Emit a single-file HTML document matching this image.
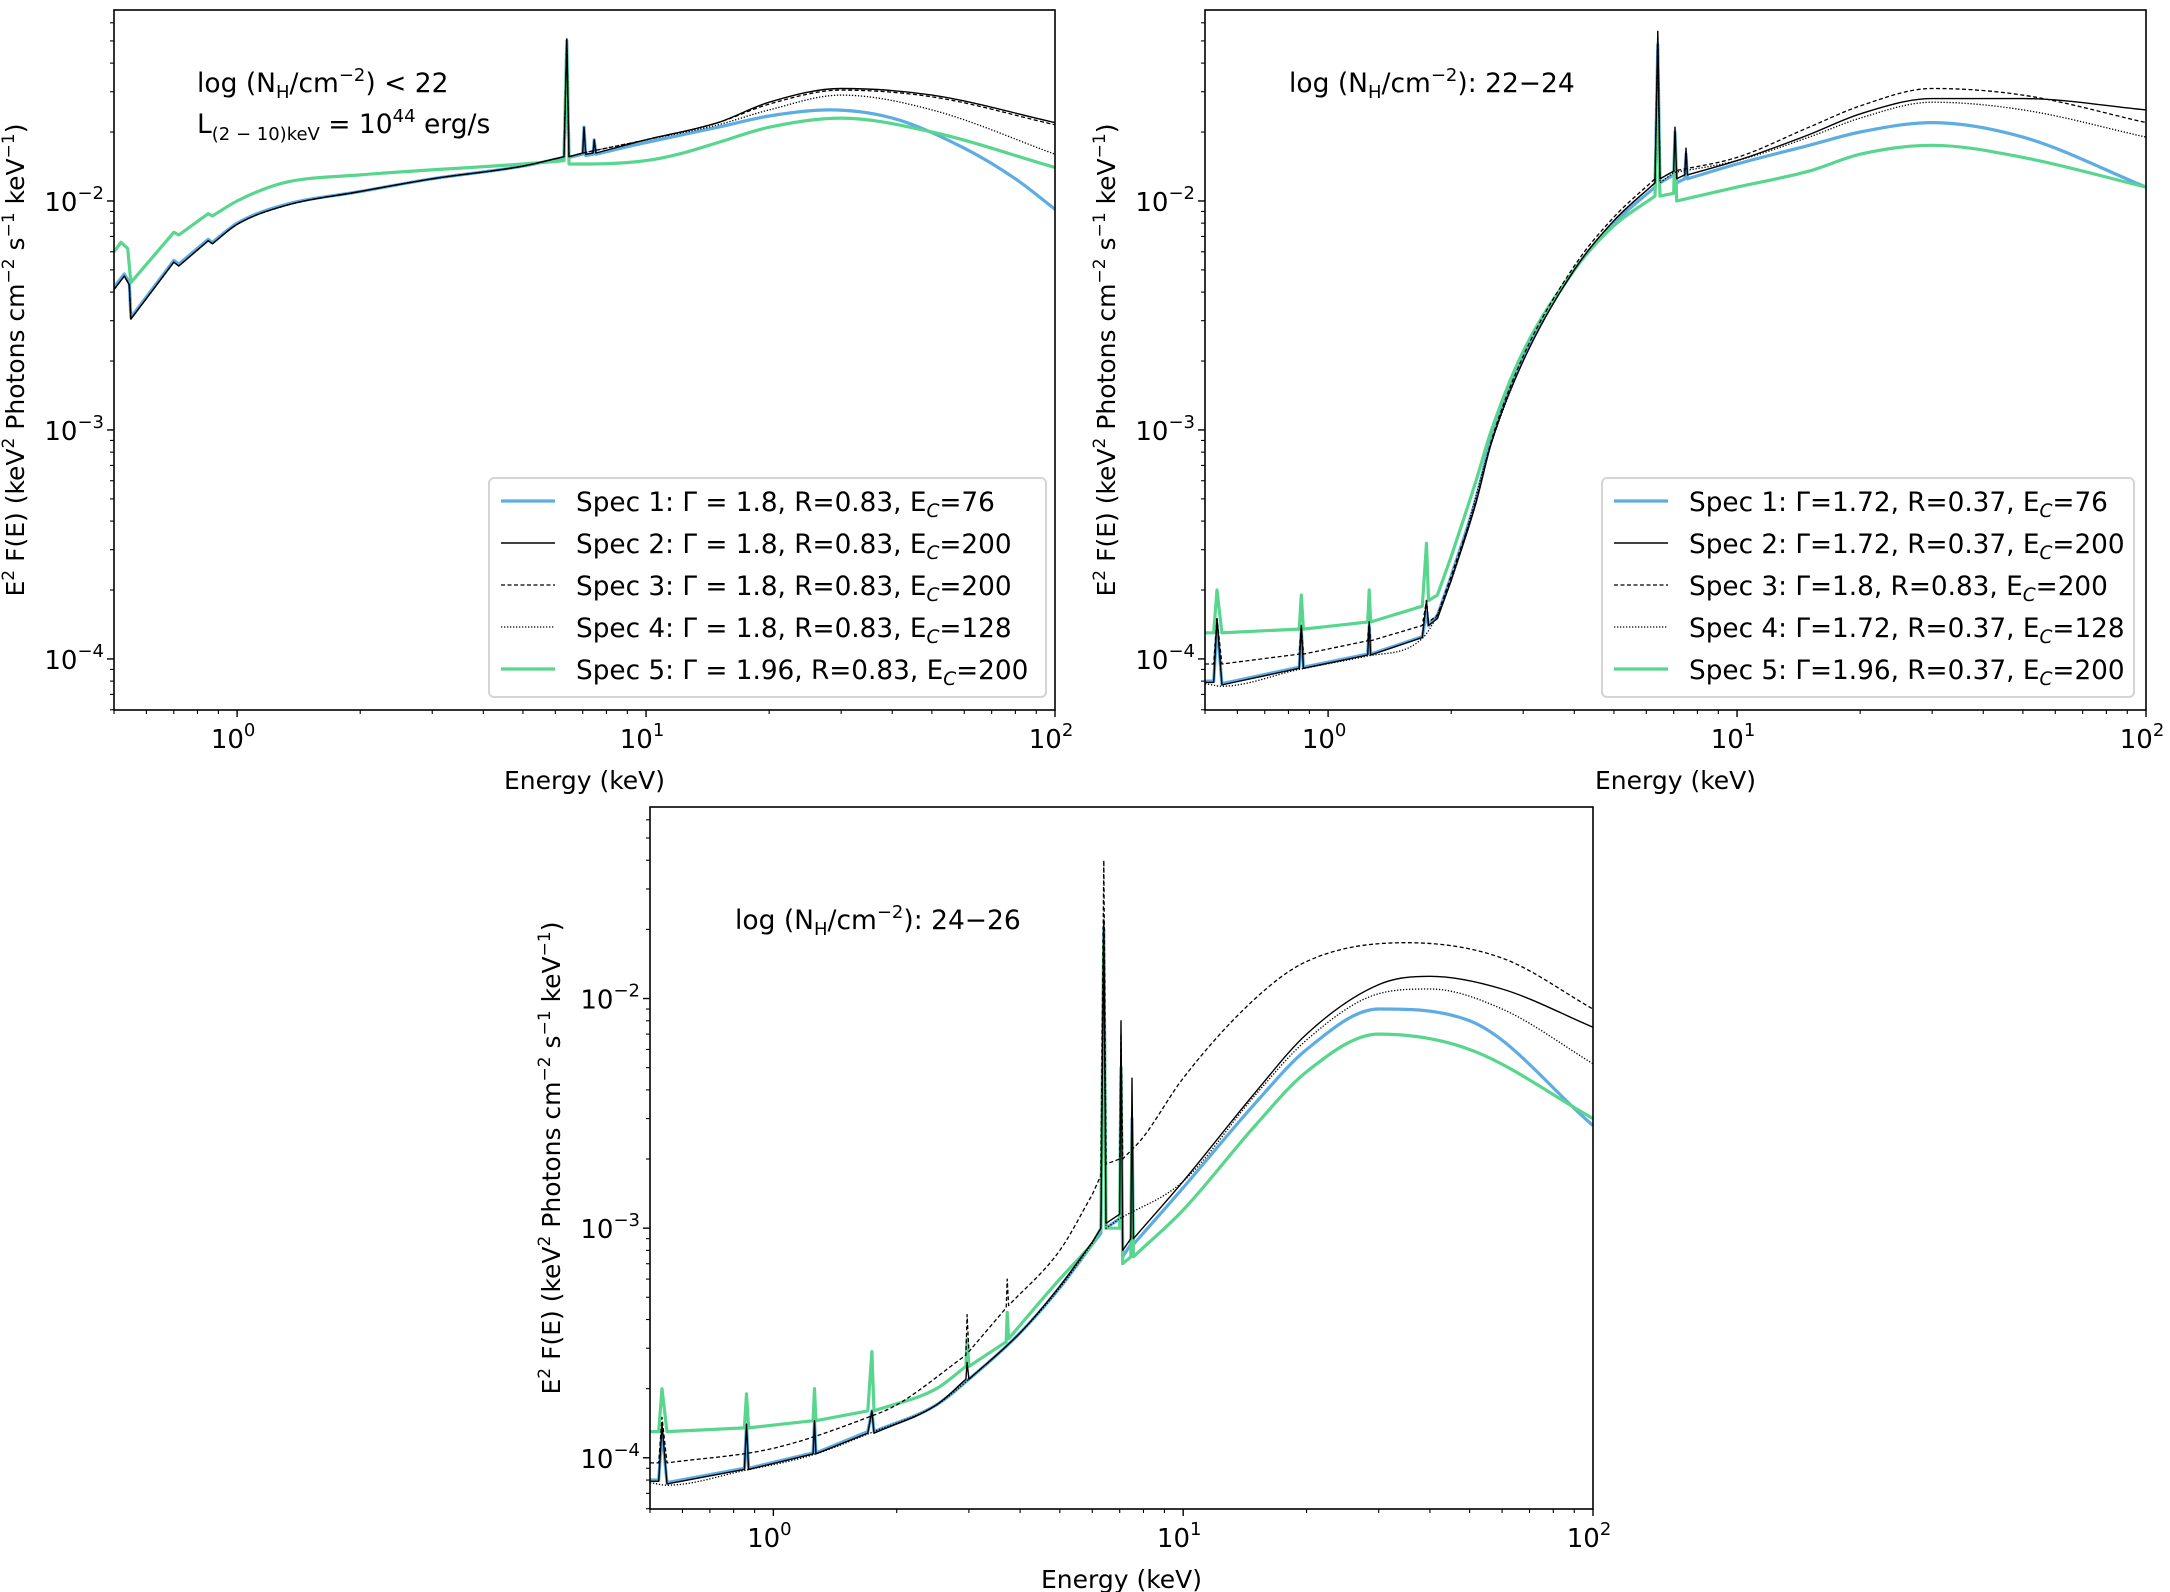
<!DOCTYPE html>
<html><head><meta charset="utf-8"><style>
html,body{margin:0;padding:0;background:#fff}
svg{display:block;font-family:"DejaVu Sans","Liberation Sans",sans-serif}
</style></head><body>
<svg id="fig" width="2170" height="1592" viewBox="0 0 2170 1592" xmlns="http://www.w3.org/2000/svg"></svg>
<script>
// ---------- data: energies (keV) and fluxes for each panel / spectrum ----------
const p1_s1_E=[0.5,0.53,0.545,0.55,0.7,0.72,0.85,0.87,1.0,1.3,2,3,5,6.3,6.4,6.48,7.0,7.05,7.12,7.42,7.47,7.54,10,15,20,28,40,60,80,100];
const p1_s1_F=[4.2e-3,4.8e-3,4.4e-3,3.1e-3,5.5e-3,5.3e-3,6.8e-3,6.6e-3,8.0e-3,9.6e-3,1.1e-2,1.25e-2,1.42e-2,1.55e-2,5.0e-2,1.55e-2,1.6e-2,2.1e-2,1.58e-2,1.6e-2,1.85e-2,1.6e-2,1.8e-2,2.1e-2,2.35e-2,2.5e-2,2.3e-2,1.7e-2,1.25e-2,9.2e-3];
const p1_s2_E=[0.5,0.53,0.545,0.55,0.7,0.72,0.85,0.87,1.0,1.3,2,3,5,6.3,6.4,6.48,7.0,7.05,7.12,7.42,7.47,7.54,10,15,20,30,50,100];
const p1_s2_F=[4.1e-3,4.7e-3,4.3e-3,3.05e-3,5.4e-3,5.2e-3,6.7e-3,6.5e-3,7.9e-3,9.5e-3,1.1e-2,1.25e-2,1.42e-2,1.56e-2,5.1e-2,1.56e-2,1.62e-2,2.1e-2,1.6e-2,1.62e-2,1.85e-2,1.62e-2,1.85e-2,2.2e-2,2.7e-2,3.1e-2,2.9e-2,2.2e-2];
const p1_s3_E=[0.5,0.53,0.545,0.55,0.7,0.72,0.85,0.87,1.0,1.3,2,3,5,6.3,6.4,6.48,7.0,10,15,20,30,50,100];
const p1_s3_F=[4.1e-3,4.7e-3,4.3e-3,3.05e-3,5.4e-3,5.2e-3,6.7e-3,6.5e-3,7.9e-3,9.5e-3,1.1e-2,1.25e-2,1.42e-2,1.56e-2,5.1e-2,1.56e-2,1.62e-2,1.85e-2,2.2e-2,2.65e-2,3.05e-2,2.85e-2,2.15e-2];
const p1_s4_E=[0.5,0.53,0.545,0.55,0.7,0.72,0.85,0.87,1.0,1.3,2,3,5,6.3,6.4,6.48,7.0,10,15,20,30,50,100];
const p1_s4_F=[4.1e-3,4.7e-3,4.3e-3,3.05e-3,5.4e-3,5.2e-3,6.7e-3,6.5e-3,7.9e-3,9.5e-3,1.1e-2,1.25e-2,1.42e-2,1.56e-2,5.0e-2,1.56e-2,1.62e-2,1.85e-2,2.15e-2,2.5e-2,2.9e-2,2.5e-2,1.6e-2];
const p1_s5_E=[0.5,0.52,0.54,0.55,0.7,0.72,0.85,0.87,1.0,1.3,2,5,6.3,6.4,6.48,7.3,10,12,15,20,30,50,100];
const p1_s5_F=[6.0e-3,6.6e-3,6.2e-3,4.4e-3,7.3e-3,7.1e-3,8.8e-3,8.6e-3,1.0e-2,1.2e-2,1.3e-2,1.45e-2,1.5e-2,4.6e-2,1.45e-2,1.45e-2,1.5e-2,1.6e-2,1.8e-2,2.1e-2,2.3e-2,2.0e-2,1.4e-2];

const p2_s1_E=[0.5,0.525,0.535,0.55,0.85,0.86,0.87,1.25,1.26,1.27,1.7,1.74,1.76,1.85,2.0,2.3,2.5,3,4,5,6.3,6.4,6.48,7.0,7.05,7.12,7.45,7.5,7.56,10,15,20,30,50,100];
const p2_s1_F=[8e-5,8e-5,1.4e-4,7.8e-5,9.2e-5,1.35e-4,9.2e-5,1.05e-4,1.4e-4,1.05e-4,1.25e-4,1.6e-4,1.4e-4,1.55e-4,2.3e-4,5e-4,9e-4,2.1e-3,5e-3,8e-3,1.15e-2,4.8e-2,1.2e-2,1.3e-2,2.0e-2,1.2e-2,1.25e-2,1.6e-2,1.25e-2,1.45e-2,1.75e-2,2.0e-2,2.2e-2,1.9e-2,1.15e-2];
const p2_s2_E=[0.5,0.525,0.535,0.55,0.85,0.86,0.87,1.25,1.26,1.27,1.7,1.74,1.76,1.85,2.0,2.3,2.5,3,4,5,6.3,6.4,6.48,7.0,7.05,7.12,7.45,7.5,7.56,10,15,20,30,50,100];
const p2_s2_F=[7.9e-5,7.9e-5,1.5e-4,7.7e-5,9.1e-5,1.4e-4,9.1e-5,1.04e-4,1.45e-4,1.04e-4,1.24e-4,1.8e-4,1.4e-4,1.5e-4,2.2e-4,4.8e-4,8.6e-4,2.0e-3,5e-3,8.2e-3,1.2e-2,5.5e-2,1.25e-2,1.35e-2,2.1e-2,1.25e-2,1.3e-2,1.7e-2,1.3e-2,1.5e-2,1.95e-2,2.4e-2,2.8e-2,2.8e-2,2.5e-2];
const p2_s3_E=[0.5,0.525,0.535,0.55,0.85,0.86,0.87,1.25,1.26,1.27,1.7,1.74,1.76,1.85,2.0,2.3,2.5,3,4,5,6.3,6.4,6.48,7.0,10,15,20,30,50,100];
const p2_s3_F=[9.5e-5,9.5e-5,1.5e-4,9.5e-5,1.05e-4,1.4e-4,1.05e-4,1.2e-4,1.45e-4,1.2e-4,1.4e-4,1.8e-4,1.45e-4,1.55e-4,2.3e-4,4.9e-4,8.8e-4,2.1e-3,5.2e-3,8.5e-3,1.25e-2,5.5e-2,1.25e-2,1.35e-2,1.55e-2,2.1e-2,2.6e-2,3.1e-2,2.9e-2,2.2e-2];
const p2_s4_E=[0.5,0.55,0.85,1.25,1.7,2.0,2.5,3,4,5,6.3,6.4,6.48,7.0,10,15,20,30,50,100];
const p2_s4_F=[7.8e-5,7.6e-5,9e-5,1.03e-4,1.23e-4,2.2e-4,8.6e-4,2.0e-3,5e-3,8.2e-3,1.2e-2,4.5e-2,1.2e-2,1.33e-2,1.5e-2,1.9e-2,2.3e-2,2.7e-2,2.5e-2,1.9e-2];
const p2_s5_E=[0.5,0.525,0.535,0.55,0.85,0.86,0.87,1.25,1.26,1.27,1.7,1.74,1.76,1.85,2.0,2.3,2.5,3,4,5,6.3,6.4,6.48,7.0,7.05,7.12,10,15,20,30,50,100];
const p2_s5_F=[1.3e-4,1.3e-4,2e-4,1.3e-4,1.35e-4,1.9e-4,1.35e-4,1.45e-4,2.0e-4,1.45e-4,1.7e-4,3.2e-4,1.8e-4,1.9e-4,2.8e-4,6e-4,9.8e-4,2.2e-3,5e-3,7.8e-3,1.05e-2,3.0e-2,1.05e-2,1.08e-2,1.8e-2,1.0e-2,1.15e-2,1.35e-2,1.6e-2,1.75e-2,1.55e-2,1.15e-2];

const p3_s1_E=[0.5,0.525,0.535,0.55,0.85,0.86,0.87,1.25,1.26,1.27,1.7,1.74,1.76,2.5,3,4,5,6,6.3,6.4,6.48,7.0,7.05,7.12,7.45,7.5,7.56,10,15,20,30,50,100];
const p3_s1_F=[8e-5,8e-5,1.3e-4,7.8e-5,9e-5,1.4e-4,9e-5,1.05e-4,1.45e-4,1.05e-4,1.3e-4,1.6e-4,1.3e-4,1.7e-4,2.2e-4,3.5e-4,5.5e-4,8.5e-4,9.5e-4,2.0e-2,1.0e-3,1.1e-3,5e-3,7.5e-4,8.5e-4,3e-3,8.5e-4,1.5e-3,3.5e-3,6e-3,9e-3,8e-3,2.8e-3];
const p3_s2_E=[0.5,0.525,0.535,0.55,0.85,0.86,0.87,1.25,1.26,1.27,1.7,1.74,1.76,2.5,2.95,2.97,3.0,4,5,6,6.3,6.4,6.48,7.0,7.05,7.12,7.45,7.5,7.56,10,15,20,30,40,60,100];
const p3_s2_F=[7.9e-5,7.9e-5,1.4e-4,7.7e-5,8.9e-5,1.4e-4,8.9e-5,1.04e-4,1.45e-4,1.04e-4,1.28e-4,1.6e-4,1.28e-4,1.7e-4,2.2e-4,2.6e-4,2.2e-4,3.5e-4,5.6e-4,8.7e-4,1.0e-3,2.2e-2,1.05e-3,1.15e-3,8e-3,8e-4,9e-4,4.5e-3,9e-4,1.6e-3,3.9e-3,7e-3,1.15e-2,1.25e-2,1.1e-2,7.5e-3];
const p3_s3_E=[0.5,0.525,0.535,0.55,1.0,1.7,2.0,2.95,2.97,3.0,3.7,3.72,3.75,5,6,6.3,6.4,6.48,7.0,7.05,7.12,8,10,15,20,35,60,100];
const p3_s3_F=[9.5e-5,9.5e-5,1.5e-4,9.5e-5,1.1e-4,1.5e-4,1.7e-4,2.8e-4,4.2e-4,2.9e-4,4.5e-4,6e-4,4.6e-4,8e-4,1.4e-3,1.7e-3,4.0e-2,1.9e-3,2.0e-3,7e-3,2.0e-3,2.5e-3,4.5e-3,1.0e-2,1.45e-2,1.75e-2,1.5e-2,9e-3];
const p3_s4_E=[0.5,0.55,0.85,1.25,1.7,2.5,3,4,5,6,6.3,6.4,6.48,7.0,10,15,20,30,40,60,100];
const p3_s4_F=[7.8e-5,7.6e-5,8.8e-5,1.03e-4,1.27e-4,1.7e-4,2.2e-4,3.5e-4,5.5e-4,8.6e-4,1.0e-3,1.8e-2,1.0e-3,1.1e-3,1.6e-3,3.8e-3,6.6e-3,1.05e-2,1.1e-2,9e-3,5.2e-3];
const p3_s5_E=[0.5,0.525,0.535,0.55,0.85,0.86,0.87,1.25,1.26,1.27,1.7,1.74,1.76,2.5,2.95,2.97,3.0,3.7,3.72,3.75,5,6,6.3,6.4,6.48,7.0,7.05,7.12,7.45,7.5,7.56,10,15,20,30,50,100];
const p3_s5_F=[1.3e-4,1.3e-4,2e-4,1.3e-4,1.35e-4,1.9e-4,1.35e-4,1.45e-4,2e-4,1.45e-4,1.6e-4,2.9e-4,1.6e-4,2e-4,2.5e-4,3.3e-4,2.5e-4,3.2e-4,4.3e-4,3.3e-4,6e-4,8.5e-4,1.0e-3,1.8e-2,1.0e-3,1.0e-3,5e-3,7e-4,7.5e-4,2.5e-3,7.5e-4,1.2e-3,2.8e-3,4.8e-3,7e-3,6e-3,3e-3];

const legend1Labels=[["Spec 1: Γ = 1.8, R=0.83, E","76"],["Spec 2: Γ = 1.8, R=0.83, E","200"],["Spec 3: Γ = 1.8, R=0.83, E","200"],["Spec 4: Γ = 1.8, R=0.83, E","128"],["Spec 5: Γ = 1.96, R=0.83, E","200"]];
const legend2Labels=[["Spec 1: Γ=1.72, R=0.37, E","76"],["Spec 2: Γ=1.72, R=0.37, E","200"],["Spec 3: Γ=1.8, R=0.83, E","200"],["Spec 4: Γ=1.72, R=0.37, E","128"],["Spec 5: Γ=1.96, R=0.37, E","200"]];
const xTickExps=[0,1,2];
const yTickExps=[-4,-3,-2];

// ---------- drawing ----------
const NS="http://www.w3.org/2000/svg";
const svg=document.getElementById('fig');
function el(tag,attrs,parent){const e=document.createElementNS(NS,tag);for(const k in attrs)e.setAttribute(k,attrs[k]);(parent||svg).appendChild(e);return e;}
const styles=[
 {stroke:"#5DADE2",w:3.2,dash:null},
 {stroke:"#000",w:1.4,dash:null},
 {stroke:"#000",w:1.3,dash:"4,2.5"},
 {stroke:"#000",w:1.3,dash:"1.3,1.7"},
 {stroke:"#58D68D",w:3.2,dash:null}];
const X0=Math.log10(0.5),X1=2,Y0=-4.223,Y1=-1.166;

// smooth path: long segments cubic, short segments (spikes/edges) straight
function smoothPath(xs,ys){
  const n=xs.length,LONG=14;
  const dx=[],m=[],lg=[];
  for(let i=0;i<n-1;i++){dx.push(xs[i+1]-xs[i]);m.push((ys[i+1]-ys[i])/Math.max(dx[i],1e-6));lg.push(dx[i]>LONG);}
  const t=new Array(n);
  for(let i=0;i<n;i++){
    const a=(i>0&&lg[i-1])?m[i-1]:null, b=(i<n-1&&lg[i])?m[i]:null;
    if(a!==null&&b!==null)t[i]=(a*b<=0)?0:(a+b)/2;
    else t[i]=(a!==null?a:(b!==null?b:0));
  }
  for(let i=0;i<n-1;i++){if(!lg[i])continue;if(m[i]===0){t[i]=0;t[i+1]=0;continue;}
    const a=t[i]/m[i],b=t[i+1]/m[i],s=a*a+b*b;if(s>9){const k=3/Math.sqrt(s);t[i]=k*a*m[i];t[i+1]=k*b*m[i];}}
  let d='M'+xs[0].toFixed(1)+','+ys[0].toFixed(1);
  for(let i=0;i<n-1;i++){
    if(!lg[i]){d+='L'+xs[i+1].toFixed(1)+','+ys[i+1].toFixed(1);continue;}
    const h=dx[i]/3;d+='C'+(xs[i]+h).toFixed(1)+','+(ys[i]+t[i]*h).toFixed(1)+' '+(xs[i+1]-h).toFixed(1)+','+(ys[i+1]-t[i+1]*h).toFixed(1)+' '+xs[i+1].toFixed(1)+','+ys[i+1].toFixed(1);}
  return d;
}

function panel(id,L,T,R,B,series,ann,legend){
  const g=el('g',{},svg);
  
  
  const sx=e=>L+(Math.log10(e)-X0)/(X1-X0)*(R-L);
  const sy=f=>B-(Math.log10(f)-Y0)/(Y1-Y0)*(B-T);
  const clipId=id+'-clip';
  const cp=el('clipPath',{id:clipId},g);el('rect',{x:L,y:T,width:R-L,height:B-T},cp);
  const lines=el('g',{'clip-path':`url(#${clipId})`},g);
  const order=[0,4,1,2,3];
  order.forEach(i=>{
    const [E,F]=series[i],st=styles[i];
    const d=smoothPath(E.map(sx),F.map(sy));
    const p=el('path',{d:d,fill:'none',stroke:st.stroke,'stroke-width':st.w,'stroke-linejoin':'round'},lines);
    if(st.dash)p.setAttribute('stroke-dasharray',st.dash);
    
    
  });
  const fr=el('rect',{x:L,y:T,width:R-L,height:B-T,fill:'none',stroke:'#000','stroke-width':1.6},g);
  
  for(let dec=-1;dec<=2;dec++){for(let m=1;m<10;m++){const v=m*Math.pow(10,dec);if(Math.log10(v)<X0-1e-9||Math.log10(v)>X1+1e-9)continue;const x=sx(v);el('line',{x1:x,x2:x,y1:B,y2:B+(m==1?7:4),stroke:'#000','stroke-width':m==1?1.4:1.1},g);}}
  xTickExps.forEach(ex=>{const t=el('text',{x:sx(Math.pow(10,ex))-4,y:B+38,'text-anchor':'middle','font-size':26},g);
    
    t.innerHTML=`10<tspan dy="-12" font-size="18">${ex}</tspan>`;});
  for(let dec=-5;dec<=-1;dec++){for(let m=1;m<10;m++){const v=m*Math.pow(10,dec);const lv=Math.log10(v);if(lv<Y0||lv>Y1)continue;const y=sy(v);el('line',{x1:L-(m==1?7:4),x2:L,y1:y,y2:y,stroke:'#000','stroke-width':m==1?1.4:1.1},g);}}
  yTickExps.forEach(ex=>{const t=el('text',{x:L-10,y:sy(Math.pow(10,ex))+10,'text-anchor':'end','font-size':26},g);
    
    t.innerHTML=`10<tspan dy="-12" font-size="18">−${-ex}</tspan>`;});
  const xt=el('text',{x:(L+R)/2,y:B+79,'text-anchor':'middle','font-size':25},g);xt.textContent='Energy (keV)';
  
  const cy=(T+B)/2;const yt=el('text',{x:0,y:0,'text-anchor':'middle','font-size':25,transform:`translate(${L-90},${cy}) rotate(-90)`},g);
  yt.innerHTML='E<tspan dy="-10" font-size="17">2</tspan><tspan dy="10"> F(E) (keV</tspan><tspan dy="-10" font-size="17">2</tspan><tspan dy="10"> Photons cm</tspan><tspan dy="-10" font-size="17">−2</tspan><tspan dy="10"> s</tspan><tspan dy="-10" font-size="17">−1</tspan><tspan dy="10"> keV</tspan><tspan dy="-10" font-size="17">−1</tspan><tspan dy="10">)</tspan>';
  
  ann.forEach(a=>{const t=el('text',{x:a.x,y:a.y,'font-size':26.5},g);t.innerHTML=a.html;
    });
  if(legend){const lg=el('g',{},g);
    
    el('rect',{x:legend.x,y:legend.y,width:legend.w,height:legend.h,rx:5,fill:'#fff','fill-opacity':0.85,stroke:'#d5d5d5','stroke-width':2},lg);
    legend.labels.forEach((lab,i)=>{const y=legend.y+23+i*42;const st=styles[i];
      const ln=el('line',{x1:legend.x+12,x2:legend.x+66,y1:y,y2:y,stroke:st.stroke,'stroke-width':st.w},lg);
      if(st.dash)ln.setAttribute('stroke-dasharray',st.dash);
      const t=el('text',{x:legend.x+87,y:y+10,'font-size':26.3},lg);
      t.innerHTML=`${lab[0]}<tspan dy="6" font-size="18.5" font-style="italic">C</tspan><tspan dy="-6">=${lab[1]}</tspan>`;
      });
  }
}
panel('panel-nh-lt-22',114,10,1055,710,
 [[p1_s1_E,p1_s1_F],[p1_s2_E,p1_s2_F],[p1_s3_E,p1_s3_F],[p1_s4_E,p1_s4_F],[p1_s5_E,p1_s5_F]],
 [{x:197,y:92,html:'log (N<tspan dy="6" font-size="18">H</tspan><tspan dy="-6">/cm</tspan><tspan dy="-11" font-size="18">−2</tspan><tspan dy="11">) &lt; 22</tspan>'},
  {x:197,y:133,html:'L<tspan dy="7" font-size="18">(2 − 10)keV</tspan><tspan dy="-7"> = 10</tspan><tspan dy="-11" font-size="18">44</tspan><tspan dy="11"> erg/s</tspan>'}],
 {x:489,y:478,w:557,h:219,labels:legend1Labels});
panel('panel-nh-22-24',1205,10,2146,710,
 [[p2_s1_E,p2_s1_F],[p2_s2_E,p2_s2_F],[p2_s3_E,p2_s3_F],[p2_s4_E,p2_s4_F],[p2_s5_E,p2_s5_F]],
 [{x:1289,y:92,html:'log (N<tspan dy="6" font-size="18">H</tspan><tspan dy="-6">/cm</tspan><tspan dy="-11" font-size="18">−2</tspan><tspan dy="11">): 22−24</tspan>'}],
 {x:1602,y:478,w:532,h:219,labels:legend2Labels});
panel('panel-nh-24-26',650,807,1593,1509,
 [[p3_s1_E,p3_s1_F],[p3_s2_E,p3_s2_F],[p3_s3_E,p3_s3_F],[p3_s4_E,p3_s4_F],[p3_s5_E,p3_s5_F]],
 [{x:735,y:929,html:'log (N<tspan dy="6" font-size="18">H</tspan><tspan dy="-6">/cm</tspan><tspan dy="-11" font-size="18">−2</tspan><tspan dy="11">): 24−26</tspan>'}],
 null);
</script>
</body></html>
